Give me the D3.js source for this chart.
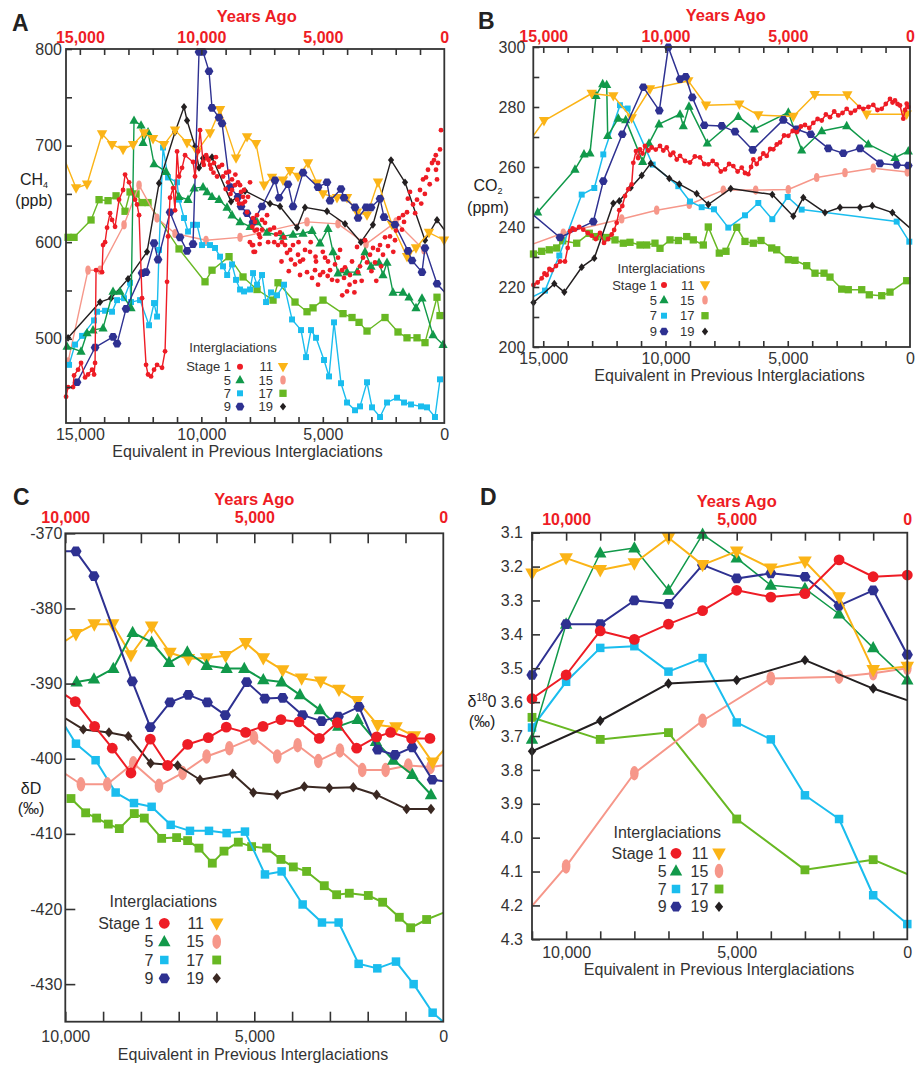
<!DOCTYPE html>
<html><head><meta charset="utf-8">
<script src="https://cdn.jsdelivr.net/npm/d3@7"></script>
<style>body{margin:0;background:#fff} text{font-family:"Liberation Sans",Arial,Helvetica,sans-serif}</style>
</head><body><svg id="c" width="917" height="1067"></svg>
<script>
// ---------------- DATA ----------------
const SERIES_KEYS = ["s1","s5","s7","s9","s11","s15","s17","s19"];
const LEGEND_ROWS = [["Stage 1","s1","11","s11"],["5","s5","15","s15"],["7","s7","17","s17"],["9","s9","19","s19"]];

// Panel A: CH4 (ppb) — [years, ppb]
const ch4_s1_line = [[15567,440],[15485,450],[15279,450],[15238,462],[15073,468],[14950,475],[14785,460],[14662,463],[14497,468],[14415,463],[14374,475],[14333,571],[14086,569],[14045,597],[13962,600],[13880,615],[13756,630],[13674,623],[13551,616],[13386,644],[13221,654],[13139,670],[12975,662],[12728,644],[12645,639],[12563,628],[12440,542],[12275,473],[12193,463],[12069,461],[11946,468],[11822,473],[11617,470],[11493,487],[11411,559],[11370,606],[11288,646],[11164,656],[11082,633],[10999,694],[10917,668],[10794,677],[10670,690],[10341,683],[10259,668],[10135,694],[10053,716],[9929,683],[9765,687],[9641,680],[9477,682]];
const ch4_s1_dots = [[9271,678],[9106,668],[8983,672],[8901,662],[8737,665],[8613,659],[8490,662],[8366,652],[8284,647],[8202,642],[8078,647],[7996,662],[7872,625],[7790,621],[7708,613],[7872,597],[7850,590],[7626,608],[8119,631],[8407,659],[9353,668],[8737,654],[8531,644],[7900,616],[7708,628],[7502,623],[7379,620],[7296,628],[7914,597],[7790,590],[7584,605],[7173,613],[7008,615],[6926,608],[6762,610],[6679,600],[6556,597],[6474,589],[6350,592],[6309,582],[6144,577],[6021,587],[5938,566],[5815,582],[5650,569],[5527,590],[5444,563],[5321,571],[5197,556],[5115,566],[4992,569],[4786,580],[4621,561],[4498,577],[4374,584],[4210,571],[4086,574],[4004,549],[3798,580],[3675,559],[3592,595],[3469,575],[3346,584],[3181,579],[2934,594],[2852,579],[2646,597],[2523,587],[2440,605],[2235,606],[1988,612],[1864,625],[1741,613],[1535,631],[1412,652],[1288,639],[1123,644],[876,665],[671,675],[506,682],[424,685],[342,675],[259,682],[177,696],[136,716],[5733,592],[6227,597],[4909,584],[4292,592],[3880,566],[3263,602],[3058,587],[2728,592],[2317,596],[2029,602],[1658,621],[1000,654],[753,667],[5938,580],[5280,580],[4703,571],[4127,563],[3551,569],[6597,605],[6844,597],[7502,613],[8243,654],[8860,673],[9147,680],[9800,690],[9700,685],[9600,676],[9900,680],[9500,672],[9400,688],[9000,655],[8800,650],[8600,670],[8450,640],[600,660],[800,650],[1500,645],[1700,628],[1200,630],[950,640],[350,690],[300,665],[2100,590],[2600,575],[3000,570],[3400,560],[3900,556],[4400,560],[4800,565],[5000,590],[5500,600],[5300,585],[6000,600],[6400,570],[6700,580],[7000,600],[7250,600],[7600,598],[7800,612],[8000,600],[8300,640],[2800,560],[4200,545],[3700,548]];
const ch4_s5 = [[15527,492],[14951,487],[14704,506],[14457,509],[14045,511],[13634,549],[13346,549],[12893,532],[12770,726],[12481,721],[12399,703],[12193,714],[11947,681],[11453,673],[10918,647],[10547,644],[10300,656],[9930,657],[9765,652],[9560,647],[9272,644],[8942,636],[8737,628],[8407,621],[7996,616],[7708,621],[7296,610],[6638,606],[6226,608],[5815,609],[5444,612],[5115,599],[4786,614],[4580,590],[4374,568],[4004,569],[3593,569],[3263,590],[3016,575],[2687,579],[2523,566],[2358,579],[2111,548],[1700,548],[1453,543],[1165,532],[918,542],[465,504],[53,494]];
const ch4_s7 = [[15650,478],[15444,473],[15197,494],[14909,503],[14416,519],[14292,528],[13963,529],[13675,528],[13469,540],[13181,542],[12934,558],[12893,538],[12523,540],[12152,514],[11947,537],[11823,523],[11741,592],[11576,698],[11370,667],[11000,662],[10918,644],[10712,625],[10547,611],[10342,618],[10177,618],[9971,597],[9642,597],[9436,594],[9230,585],[9107,575],[8938,566],[8736,577],[8572,561],[8407,551],[8243,549],[7996,551],[7872,568],[7708,556],[7502,566],[7337,538],[7132,548],[6885,545],[6597,556],[6267,520],[5897,509],[5691,481],[5486,509],[5280,501],[4951,478],[4745,461],[4539,517],[4251,454],[4004,434],[3675,426],[3469,430],[3181,455],[2975,429],[2646,419],[2358,434],[1946,439],[1658,434],[1370,432],[959,430],[712,429],[383,419],[177,458]];
const ch4_s9 = [[15115,455],[14374,491],[13634,502],[13469,495],[13099,531],[12440,568],[12276,569],[11947,599],[11782,582],[11288,631],[10877,605],[10588,591],[10342,598],[10095,797],[9930,797],[9683,777],[9560,739],[9272,729],[9148,723],[8819,657],[8490,647],[8366,637],[8119,630],[7872,621],[7502,637],[6967,664],[6802,646],[6432,660],[6226,637],[5815,672],[5198,657],[4827,662],[4704,643],[4251,655],[4128,646],[3675,636],[3551,625],[3222,636],[3016,636],[2646,645],[2481,626],[2029,618],[1494,591],[1329,581],[918,569],[794,594],[300,557],[-200,543]];
const ch4_s11 = [[15700,690],[15156,656],[14704,660],[14086,712],[13675,701],[13222,696],[12811,701],[12358,713],[11988,707],[11535,701],[11082,716],[10588,703],[10177,694],[9642,713],[9230,737],[8572,687],[8119,709],[7749,702],[7420,659],[7091,667],[6638,664],[6350,674],[6021,668],[5609,682],[5239,661],[4992,650],[4416,646],[4004,646],[3593,631],[3181,628],[2728,662],[2152,618],[1535,585],[1165,594],[630,610],[12,602]];
const ch4_s15 = [[15486,476],[14663,571],[14169,571],[13181,618],[12564,659],[11823,625],[11082,609],[9807,602],[8407,605],[5650,621],[4374,619],[3222,598],[1988,621],[835,592]];
const ch4_s17 = [[15485,605],[15239,605],[14539,623],[14210,644],[13840,643],[13510,648],[13140,632],[12934,652],[12687,650],[12440,641],[12193,641],[10918,593],[9848,559],[9560,571],[8860,585],[8284,564],[7708,551],[7049,540],[6844,558],[6144,538],[5650,528],[5403,532],[4992,540],[4169,526],[3798,522],[3510,517],[3181,508],[2440,522],[1905,507],[1535,501],[1123,501],[794,496],[300,543],[177,524]];
const ch4_s19 = [[15485,501],[14169,538],[13716,542],[13016,562],[12235,590],[11741,661],[11082,714],[10712,740],[10588,726],[10259,699],[10095,677],[9930,687],[9560,688],[8778,642],[8202,653],[7173,640],[6761,637],[6062,615],[5733,636],[4827,632],[4086,619],[3432,600],[2938,618],[2193,685],[1617,662],[794,602],[300,623],[-200,606]];

// Panel B: CO2 (ppm) — [years, ppm]
const co2_s1 = [[15400,220.7],[15230,221.5],[15064,222.9],[14950,224.5],[14859,224.0],[14750,226],[14655,225.6],[14480,227],[14315,228.5],[14111,228.5],[14000,233],[13906,238.6],[13800,239.5],[13702,239.1],[13530,240],[13362,239.1],[13180,238],[13018,237.1],[12850,236],[12679,238.0],[12515,234.7],[12350,236],[12200,237.5],[12100,239],[11996,241.4],[11890,245.6],[11767,247.0],[11657,250.3],[11521,252.6],[11383,254.2],[11317,261.4],[11207,265.3],[11120,263],[11043,265.9],[10940,264.5],[10839,267.0],[10700,265.5],[10564,266.5],[10400,265.8],[10225,267.0],[10090,265.5],[9951,266.5],[9800,264],[9681,264.8],[9540,262.5],[9407,263.7],[9200,262],[8998,261.5],[8800,263.5],[8589,263.2],[8420,261],[8250,260.9],[8070,262],[7906,260.9],[7740,258.5],[7567,259.2],[7400,261],[7227,260.3],[7050,258.5],[6883,259.8],[6750,258],[6613,257.6],[6500,260],[6409,262.5],[6270,261],[6135,262.8],[6000,264.5],[5861,263.7],[5720,266],[5591,265.9],[5450,267.5],[5317,268.2],[5150,270.5],[4977,270.4],[4800,272],[4634,271.6],[4460,273.5],[4295,274.0],[4120,273],[3955,274.7],[3780,276],[3611,275.5],[3440,277.5],[3272,276.6],[3100,278.5],[2933,277.2],[2760,278],[2589,279.4],[2420,278],[2250,278.8],[2080,280],[1910,279.4],[1700,280],[1501,280.7],[1330,279],[1157,279.4],[990,281],[818,282.7],[714,281.5],[614,282.2],[510,281],[409,280.5],[274,276.1],[200,279],[135,281.1],[60,280]];
const co2_s5 = [[15227,244.9],[13702,259.2],[13333,264.3],[13088,264.6],[12843,283.8],[12569,287.7],[12405,287.4],[12364,270.4],[11930,276.2],[11628,275.7],[10933,261.8],[10675,267.9],[10266,274.3],[9407,277.6],[9272,273.7],[9039,280.2],[8290,267.9],[7023,276.8],[6368,272.6],[4977,278.2],[4430,265.6],[3611,272.0],[2589,273.7],[1706,267.6],[614,263.1],[70,265.3]];
const co2_s7 = [[15700,215.6],[14928,218.8],[14344,230.5],[13427,250.8],[12912,253.0],[12544,264.2],[11862,280.6],[11546,279.5],[10524,260.8],[9477,253.6],[8998,248.5],[8520,246.6],[8017,245.9],[7432,239.8],[6749,243.9],[6205,248.0],[5632,242.6],[5002,250],[4430,245.8],[544,241.8],[29,235.1]];
const co2_s9 = [[15700,246],[14315,236.5],[12953,241.8],[12544,255.3],[11767,270.9],[10908,286.6],[10253,278.8],[9885,299.9],[9407,289.3],[9174,290.1],[8904,283.2],[8413,273.9],[7701,273.7],[7158,271.8],[6433,265.7],[5182,275.7],[4634,272.6],[4061,270.9],[3341,266.2],[2728,264.6],[2045,266.2],[1227,261.2],[544,260.7],[70,260.5]];
const co2_s11 = [[15700,267],[14969,275.4],[13018,284.5],[12135,283.7],[11383,276.3],[10634,286.0],[9067,288.7],[8344,280.6],[6982,280.9],[6205,277.3],[4773,276.8],[3898,284.1],[2564,284.0],[1771,277.6],[135,277.6]];
const co2_s15 = [[15700,233.5],[14180,238.0],[11791,242.7],[10360,245.6],[9027,247.5],[7636,252.3],[6311,252.3],[4977,252.5],[3816,256.5],[2659,258.1],[1501,259.6],[110,258.3]];
const co2_s17 = [[15400,231.0],[15064,231.9],[14753,232.4],[14450,233.0],[14205,235.4],[13632,234.6],[13116,237.9],[12843,236.8],[12405,236.5],[12066,235.7],[11726,234.6],[11452,234.9],[11043,234.0],[10769,234.0],[10430,234.6],[10225,232.9],[9816,235.7],[9476,235.5],[9133,236.8],[8863,235.7],[8454,234.0],[8250,240.0],[7800,231.3],[7526,231.9],[7088,239.9],[6749,235.2],[6409,234.6],[6094,235.5],[5656,233.0],[5452,232.4],[4977,229.1],[4703,228.9],[4225,227.1],[3885,224.6],[3517,224.6],[3272,223.3],[2793,219.3],[2524,219.1],[1975,219.1],[1665,217.4],[1157,217.1],[818,218.3],[135,222.1]];
const co2_s19 = [[15400,214.8],[14548,221.1],[14139,218.3],[13427,226.6],[12912,229.6],[12135,247.9],[11890,248.7],[11424,253.1],[10973,257.2],[10605,261.2],[9845,256.2],[9436,254.3],[8724,251.1],[8250,247.5],[7333,252.8],[5632,250.8],[4773,243.6],[4364,249.8],[3477,244.8],[2863,246.5],[2045,246.5],[1542,247.1],[720,244.8],[-300,237.5]];

// Panel C: deltaD (permil) — [years, value]
const dD_s1 = [[10300,-390.5],[9735,-392.4],[9224,-395.7],[8757,-398.6],[8263,-401.9],[7751,-397.4],[7293,-400.9],[6764,-398.1],[6217,-397.2],[5741,-395.8],[5229,-396.5],[4770,-395.7],[4295,-394.8],[3818,-395.1],[3280,-397.3],[2804,-395.2],[2293,-398.6],[1764,-397.1],[1393,-396.5],[838,-397.3],[353,-397.3]];
const dD_s5 = [[9700,-389.8],[9242,-389.4],[8730,-388.0],[8219,-383.2],[7716,-384.5],[7257,-387.2],[6772,-385.8],[6261,-387.6],[5732,-388.0],[5265,-388.0],[4762,-389.5],[4277,-389.8],[3792,-391.5],[3263,-393.5],[2778,-395.7],[2266,-394.8],[1781,-397.7],[1323,-400.2],[820,-402.1],[326,-404.8]];
const dD_s7 = [[10300,-393.3],[9718,-398.0],[9198,-400.2],[8668,-404.5],[8183,-405.9],[7716,-406.4],[7213,-408.8],[6702,-409.6],[6199,-409.6],[5732,-409.9],[5247,-409.7],[4718,-415.4],[4277,-415.0],[3721,-419.4],[3210,-421.8],[2769,-421.8],[2240,-427.3],[1746,-427.9],[1252,-427.0],[785,-430.0],[282,-433.8],[-300,-436.3]];
const dD_s9 = [[10300,-372.4],[9718,-372.4],[9242,-375.7],[8228,-389.7],[7751,-395.8],[7231,-392.5],[6746,-391.5],[6243,-392.5],[5767,-394.2],[5203,-389.8],[4718,-392.0],[4250,-391.9],[3721,-394.2],[3219,-395.0],[2778,-394.4],[2231,-393.1],[1737,-398.8],[1279,-399.5],[820,-398.5],[291,-402.8],[-300,-403.2]];
const dD_s11 = [[10300,-385.3],[9718,-383.4],[9233,-382.1],[8748,-382.1],[8263,-386.2],[7716,-382.4],[7231,-385.9],[6746,-386.7],[6261,-386.6],[5758,-386.3],[5229,-384.6],[4762,-386.6],[4250,-388.2],[3748,-389.3],[3245,-389.7],[2760,-390.8],[2275,-392.3],[1737,-395.5],[1252,-395.8],[767,-397.0],[282,-400.5],[-300,-397.2]];
const dD_s15 = [[10300,-401.0],[9586,-403.4],[8889,-403.4],[8201,-400.6],[7522,-403.6],[6896,-401.9],[6261,-399.7],[5661,-398.6],[5009,-397.2],[4392,-399.7],[3854,-398.2],[3307,-400.3],[2734,-398.9],[2143,-401.5],[1526,-401.5],[926,-400.9],[335,-401.1],[-300,-400.7]];
const dD_s17 = [[9850,-405.3],[9462,-407.2],[9171,-407.9],[8862,-408.7],[8571,-409.3],[8175,-407.3],[7910,-407.9],[7451,-410.6],[7055,-410.5],[6764,-410.9],[6464,-411.9],[6111,-413.9],[5802,-412.3],[5423,-411.1],[5071,-411.7],[4674,-411.9],[4295,-413.4],[3968,-414.4],[3616,-415.0],[3148,-416.9],[2822,-418.1],[2487,-417.9],[1984,-418.2],[1605,-419.1],[1164,-421.1],[864,-422.5],[441,-421.4],[-300,-419.9]];
const dD_s19 = [[10300,-393.7],[9524,-396.1],[8845,-396.5],[8333,-397.0],[7743,-400.6],[7028,-400.9],[6437,-402.8],[5573,-402.0],[5026,-404.5],[4392,-404.8],[3677,-403.7],[3016,-403.9],[2381,-403.8],[1764,-404.8],[970,-406.7],[326,-406.7]];

// Panel D: delta18O (permil)
const d18O_years = [11000,10000,9000,8000,7000,6000,5000,4000,3000,2000,1000,0];
const d18O_s1  = [3.59,3.52,3.39,3.415,3.37,3.33,3.27,3.29,3.28,3.18,3.23,3.225];
const d18O_s5  = [3.71,3.37,3.16,3.145,3.27,3.105,3.175,3.255,3.265,3.34,3.44,3.535];
const d18O_s7  = [3.675,3.54,3.44,3.435,3.51,3.47,3.66,3.71,3.875,3.945,4.17,4.255];
const d18O_s9  = [3.52,3.37,3.37,3.30,3.31,3.195,3.235,3.22,3.23,3.315,3.27,3.46];
const d18O_s11 = [3.22,3.175,3.21,3.19,3.115,3.195,3.155,3.205,3.185,3.29,3.505,3.495];
const d18O_s15 = [[11500,4.26],[10000,4.085],[8000,3.81],[6000,3.655],[4000,3.53],[2000,3.525],[1000,3.515],[0,3.5]];
const d18O_s17 = [[11000,3.645],[9000,3.71],[7000,3.69],[5000,3.945],[3000,4.095],[1000,4.065],[-300,4.12]];
const d18O_s19 = [[11000,3.745],[9000,3.655],[7000,3.545],[5000,3.535],[3000,3.476],[1000,3.56],[-300,3.605]];

// Tick labels
const xLabelsA = [15000,10000,5000,0];
const xLabelsC = [10000,5000,0];
const yLabelsA = [500,600,700,800];
const yLabelsB = [200,220,240,260,280,300];
const yLabelsC = [-370,-380,-390,-400,-410,-420,-430];
const yLabelsD = [3.1,3.2,3.3,3.4,3.5,3.6,3.7,3.8,3.9,4.0,4.1,4.2,4.3];

// ---------------- STYLE ----------------
const COLORS = {s1:"#ee1c25", s5:"#11994a", s7:"#1abdee", s9:"#2e3191", s11:"#fbb417", s15:"#f6978a", s17:"#68b823", s19:"#231f20"};
const SHAPES = {s1:"circle", s5:"triUp", s7:"square", s9:"hex", s11:"triDown", s15:"ellipse", s17:"square", s19:"diamond"};
const RED = "#ee1c25", INK = "#333333";

function shapePath(shape, s) {
  switch (shape) {
    case "circle": return `M${-s},0A${s},${s},0,1,0,${s},0A${s},${s},0,1,0,${-s},0Z`;
    case "ellipse": { const rx = s*0.6; return `M${-rx},0A${rx},${s},0,1,0,${rx},0A${rx},${s},0,1,0,${-rx},0Z`; }
    case "triUp": return `M0,${-s*1.1}L${s},${s*0.72}L${-s},${s*0.72}Z`;
    case "triDown": return `M0,${s*1.1}L${s},${-s*0.72}L${-s},${-s*0.72}Z`;
    case "square": { const a = s*0.85; return `M${-a},${-a}H${a}V${a}H${-a}Z`; }
    case "diamond": return `M0,${-s}L${s*0.8},0L0,${s}L${-s*0.8},0Z`;
    case "hex": return d3.range(6).map(i => { const a = Math.PI/3*i; return (i ? "L" : "M") + (s*Math.cos(a)).toFixed(2) + "," + (s*Math.sin(a)).toFixed(2); }).join("") + "Z";
  }
}

const svg = d3.select("#c");
svg.append("rect").attr("width", 917).attr("height", 1067).attr("fill", "#fff");

const smallSize = {s1:2.4, s5:4.6, s7:3.5, s9:4.4, s11:5.2, s15:4.6, s17:4.3, s19:3.9};
const bigSize = {s1:5.4, s5:6.2, s7:5.0, s9:5.6, s11:6.8, s15:7.2, s17:5.2, s19:5.2};

const panels = [
  { letter:"A", lx:12, ly:31, l:66, r:444.3, t:49, b:423, xDomain:[15570,0], yDomain:[412.8,800],
    xTicks:d3.range(1000,15001,1000), xLabels:xLabelsA, yTicks:d3.range(450,801,50), yLabels:yLabelsA, yFmt:d=>d,
    tickLen:6, padTop:6, padBot:6, padLeft:4, ya:{x:256.7,y:22}, eq:{x:247.5,y:457}, lw:1.4, size:smallSize,
    ylab:{x:34, y1:185, y2:206, main:"CH", sub:"4", unit:"(ppb)"},
    legend:{cx:233, ty:352, fs:13, rows:[366.7,380,393.3,406.6], x1:231, m1:240, x2:273, m2:283},
    series:[
      {key:"s17", data:ch4_s17},{key:"s15", data:ch4_s15},{key:"s7", data:ch4_s7},{key:"s19", data:ch4_s19},
      {key:"s5", data:ch4_s5},{key:"s11", data:ch4_s11},{key:"s9", data:ch4_s9},
      {key:"s1", data:ch4_s1_line},{key:"s1", data:ch4_s1_dots, noLine:true}] },
  { letter:"B", lx:478, ly:29, l:533.3, r:910, t:47, b:347, xDomain:[15407,0], yDomain:[200,300],
    xTicks:d3.range(1000,15001,1000), xLabels:xLabelsA, yTicks:d3.range(200,301,10), yLabels:yLabelsB, yFmt:d=>d,
    tickLen:6, padTop:5, padBot:5.5, padLeft:8, ya:{x:725.7,y:21}, eq:{x:729.5,y:381}, lw:1.5, size:smallSize,
    ylab:{x:488, y1:191, y2:213, main:"CO", sub:"2", unit:"(ppm)"},
    legend:{cx:661.3, ty:272.5, fs:13, rows:[285,300,315.7,331.5], x1:657, m1:664, x2:694.5, m2:705},
    series:[
      {key:"s17", data:co2_s17},{key:"s15", data:co2_s15},{key:"s7", data:co2_s7},{key:"s19", data:co2_s19},
      {key:"s5", data:co2_s5},{key:"s11", data:co2_s11},{key:"s9", data:co2_s9},{key:"s1", data:co2_s1}] },
  { letter:"C", lx:13, ly:505, l:65.3, r:443.3, t:533.3, b:1021.7, xDomain:[10000,0], yDomain:[-435,-370],
    xTicks:d3.range(1000,10001,1000), xLabels:xLabelsC, yTicks:yLabelsC, yLabels:yLabelsC, yFmt:d=>"-"+Math.abs(d),
    tickLen:10, padTop:10, padBot:9, padLeft:3, ya:{x:254.3,y:505}, eq:{x:253,y:1060}, lw:2, size:bigSize,
    ylab:{x:31, y1:794, y2:814, main:"\u03B4D", sub:"", unit:"(\u2030)"}, c19:"#3a2822",
    legend:{cx:163.3, ty:907, fs:16, rows:[923.3,941.7,960,978.3], x1:153.3, m1:164.3, x2:204, m2:216.7},
    series:[
      {key:"s17", data:dD_s17},{key:"s7", data:dD_s7},{key:"s15", data:dD_s15},{key:"s19", data:dD_s19},
      {key:"s11", data:dD_s11},{key:"s5", data:dD_s5},{key:"s9", data:dD_s9},{key:"s1", data:dD_s1}] },
  { letter:"D", lx:480, ly:505, l:532, r:907.3, t:532.7, b:939.3, xDomain:[11000,0], yDomain:[4.3,3.1],
    xTicks:d3.range(1000,11001,1000), xLabels:xLabelsC, yTicks:yLabelsD, yLabels:yLabelsD, yFmt:d3.format(".1f"),
    tickLen:8, padTop:8, padBot:7, padLeft:9, ya:{x:736.7,y:507}, eq:{x:719,y:975}, lw:2, size:bigSize,
    ylab:{x:482, y1:707, y2:727, main:"\u03B4", sup:"18", after:"0", unit:"(\u2030)"},
    legend:{cx:667.3, ty:838, fs:16, rows:[853.3,871,889,906.7], x1:666.7, m1:676, x2:708.3, m2:719},
    series:[
      {key:"s17", data:d18O_s17},{key:"s15", data:d18O_s15},{key:"s7", data:d3.zip(d18O_years, d18O_s7)},
      {key:"s19", data:d18O_s19},{key:"s5", data:d3.zip(d18O_years, d18O_s5), lw:1.5},{key:"s9", data:d3.zip(d18O_years, d18O_s9)},
      {key:"s11", data:d3.zip(d18O_years, d18O_s11)},{key:"s1", data:d3.zip(d18O_years, d18O_s1)}] }
];

function colorOf(p, key) { return (key === "s19" && p.c19) ? p.c19 : COLORS[key]; }

function drawPanel(p, idx) {
  const g = svg.append("g");
  const x = d3.scaleLinear().domain(p.xDomain).range([p.l, p.r]);
  const y = d3.scaleLinear().domain(p.yDomain).range([p.b, p.t]);
  const clipId = "clip" + idx;
  svg.append("clipPath").attr("id", clipId).append("rect")
    .attr("x", p.l).attr("y", p.t).attr("width", p.r - p.l).attr("height", p.b - p.t);
  const xmin = Math.min(...p.xDomain), xmax = Math.max(...p.xDomain);

  const line = d3.line().x(d => x(d[0])).y(d => y(d[1]));
  const dataG = g.append("g");
  p.series.forEach(s => {
    const col = colorOf(p, s.key);
    if (!s.noLine) {
      dataG.append("path").attr("d", line(s.data)).attr("fill", "none")
        .attr("stroke", col).attr("stroke-width", s.lw || p.lw).attr("stroke-linejoin", "round")
        .attr("clip-path", `url(#${clipId})`);
    }
    const pts = s.data.filter(d => d[0] >= xmin - 1 && d[0] <= xmax + 1);
    dataG.selectAll(null).data(pts).enter().append("path")
      .attr("transform", d => `translate(${x(d[0])},${y(d[1])})`)
      .attr("d", shapePath(SHAPES[s.key], p.size[s.key]))
      .attr("fill", col);
  });

  g.append("rect").attr("x", p.l).attr("y", p.t).attr("width", p.r - p.l).attr("height", p.b - p.t)
    .attr("fill", "none").attr("stroke", INK).attr("stroke-width", 1.8);

  const styleAxis = (sel, color, weight, size) => {
    sel.select(".domain").remove();
    sel.selectAll(".tick line").attr("stroke", INK).attr("stroke-width", 1.6);
    sel.selectAll("text").attr("fill", color).attr("font-weight", weight)
      .attr("font-size", size).attr("font-family", "'Liberation Sans', Arial, sans-serif");
  };
  g.append("g").attr("transform", `translate(0,${p.t})`)
    .call(d3.axisTop(x).tickValues(p.xTicks).tickSize(-p.tickLen).tickFormat(""))
    .call(s => styleAxis(s, INK, "normal", 16));
  g.append("g").attr("transform", `translate(0,${p.t})`)
    .call(d3.axisTop(x).tickValues(p.xLabels).tickSize(0).tickPadding(p.padTop).tickFormat(d3.format(",")))
    .call(s => styleAxis(s, RED, "bold", 16));
  g.append("g").attr("transform", `translate(0,${p.b})`)
    .call(d3.axisBottom(x).tickValues(p.xTicks).tickSize(-p.tickLen).tickFormat(""))
    .call(s => styleAxis(s, INK, "normal", 16));
  g.append("g").attr("transform", `translate(0,${p.b})`)
    .call(d3.axisBottom(x).tickValues(p.xLabels).tickSize(0).tickPadding(p.padBot).tickFormat(d3.format(",")))
    .call(s => styleAxis(s, INK, "normal", 16));
  g.append("g").attr("transform", `translate(${p.l},0)`)
    .call(d3.axisLeft(y).tickValues(p.yTicks).tickSize(-p.tickLen).tickFormat(""))
    .call(s => styleAxis(s, INK, "normal", 16));
  g.append("g").attr("transform", `translate(${p.l},0)`)
    .call(d3.axisLeft(y).tickValues(p.yLabels).tickSize(0).tickPadding(p.padLeft).tickFormat(p.yFmt))
    .call(s => styleAxis(s, INK, "normal", 16));

  g.append("text").attr("x", p.lx).attr("y", p.ly).text(p.letter)
    .attr("font-size", 23).attr("font-weight", "bold").attr("fill", "#222");
  g.append("text").attr("x", p.ya.x).attr("y", p.ya.y).attr("text-anchor", "middle").text("Years Ago")
    .attr("font-size", 16.5).attr("font-weight", "bold").attr("fill", RED);
  g.append("text").attr("x", p.eq.x).attr("y", p.eq.y).attr("text-anchor", "middle")
    .text("Equivalent in Previous Interglaciations").attr("font-size", 16).attr("fill", INK);

  const yl = g.append("text").attr("x", p.ylab.x).attr("y", p.ylab.y1).attr("text-anchor", "middle")
    .attr("font-size", 16).attr("fill", "#222");
  yl.append("tspan").text(p.ylab.main);
  if (p.ylab.sub) yl.append("tspan").attr("dy", 3).attr("font-size", 9).text(p.ylab.sub);
  if (p.ylab.sup) {
    yl.append("tspan").attr("dy", -6).attr("font-size", 10).text(p.ylab.sup);
    yl.append("tspan").attr("dy", 6).text(p.ylab.after);
  }
  g.append("text").attr("x", p.ylab.x).attr("y", p.ylab.y2).attr("text-anchor", "middle")
    .attr("font-size", 16).attr("fill", "#222").text(p.ylab.unit);

  const L = p.legend;
  g.append("text").attr("x", L.cx).attr("y", L.ty).attr("text-anchor", "middle")
    .attr("font-size", L.fs).attr("fill", INK).text("Interglaciations");
  LEGEND_ROWS.forEach((row, i) => {
    const yy = L.rows[i];
    [[row[0], row[1], L.x1, L.m1], [row[2], row[3], L.x2, L.m2]].forEach(([lab, key, tx, mx]) => {
      g.append("text").attr("x", tx).attr("y", yy + L.fs * 0.36).attr("text-anchor", "end")
        .attr("font-size", L.fs).attr("fill", INK).text(lab);
      const sz = key === "s1" && p.size.s1 < 3 ? 3 : p.size[key];
      g.append("path").attr("transform", `translate(${mx},${yy})`)
        .attr("d", shapePath(SHAPES[key], sz)).attr("fill", colorOf(p, key));
    });
  });
}

panels.forEach(drawPanel);
</script>
</body></html>
